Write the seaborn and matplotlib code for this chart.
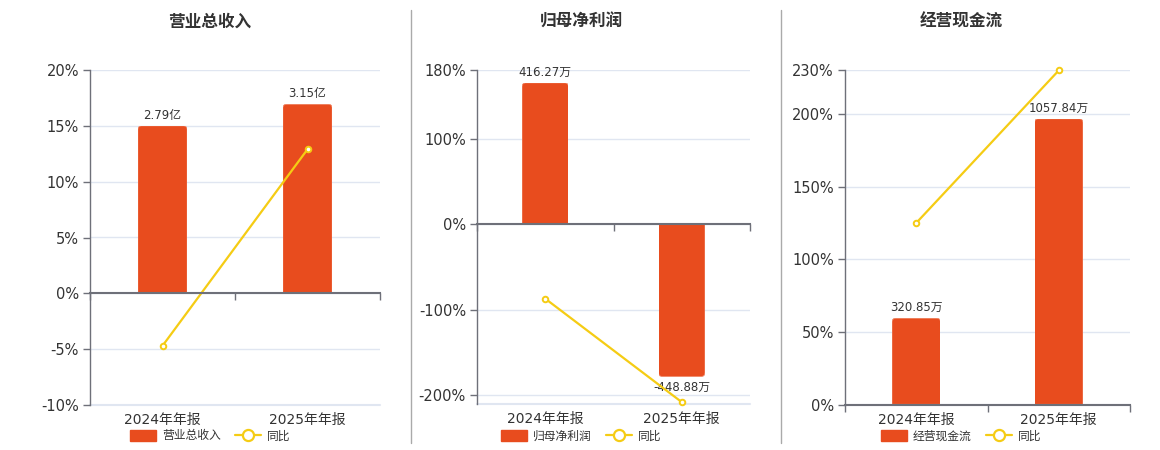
import matplotlib
matplotlib.use("Agg")
import matplotlib.pyplot as plt
from matplotlib.patches import Patch, FancyBboxPatch, Rectangle
from matplotlib.lines import Line2D
import seaborn as sns
import numpy as np
import pandas as pd

sns.set_theme(style="white")
plt.rcParams['font.family'] = ['DejaVu Sans', 'Noto Sans CJK SC']

# data
periods = ['2024年年报', '2025年年报']

revenue = [2.79, 3.15]            # 亿
revenue_yoy = [-4.7, 12.9]        # %
revenue_labels = ['2.79亿', '3.15亿']

profit = [416.27, -448.88]        # 万
profit_yoy = [-87.0, -207.8]      # %
profit_labels = ['416.27万', '-448.88万']

cashflow = [320.85, 1057.84]      # 万
cashflow_yoy = [125.0, 229.7]     # %
cashflow_labels = ['320.85万', '1057.84万']

BAR = '#E84C1E'
LINE = '#F5CC14'
AXIS = '#6E7079'
GRID = '#E0E6F1'
TEXT = '#333333'

W, H = 1160, 450
fig = plt.figure(figsize=(W / 100, H / 100), dpi=100)
fig.patch.set_facecolor('white')

panels = [
    dict(title='营业总收入', name='营业总收入', bars=revenue, yoy=revenue_yoy,
         labels=revenue_labels, ylim=(-10, 20), ticks=[-10, -5, 0, 5, 10, 15, 20],
         scale=15 / 2.79, box=(90, 70, 380, 405), cx=210),
    dict(title='归母净利润', name='归母净利润', bars=profit, yoy=profit_yoy,
         labels=profit_labels, ylim=(-210, 180), ticks=[-200, -100, 0, 100, 180],
         scale=165 / 416.27, box=(477, 70, 750, 404), cx=581),
    dict(title='经营现金流', name='经营现金流', bars=cashflow, yoy=cashflow_yoy,
         labels=cashflow_labels, ylim=(0, 230), ticks=[0, 50, 100, 150, 200, 230],
         scale=59.6 / 320.85, box=(845, 70, 1130, 405), cx=961),
]


def round_bars(axb, px_w, px_h, radius=4):
    # swap the plain bars for ones with rounded ends, clipped at the baseline
    x_per_px = np.diff(axb.get_xlim())[0] / px_w
    y_per_px = np.diff(axb.get_ylim())[0] / px_h
    r = radius * x_per_px
    for rect in list(axb.patches):
        x, y = rect.get_x(), rect.get_y()
        w, h = rect.get_width(), rect.get_height()
        ext = radius * y_per_px
        if h >= 0:
            fy, fh = y - ext, h + ext
        else:
            fy, fh = y + ext, h - ext
        fb = FancyBboxPatch((x, min(fy, fy + fh)), w, abs(fh),
                            boxstyle=f"round,pad=0,rounding_size={r}",
                            mutation_aspect=y_per_px / x_per_px,
                            facecolor=BAR, edgecolor='#F08A6A', linewidth=0.6)
        axb.add_patch(fb)
        clip = Rectangle((x, min(y, y + h)), w, abs(h), transform=axb.transData)
        fb.set_clip_path(clip)
        rect.set_visible(False)


for p in panels:
    x0, y0, x1, y1 = p['box']
    ax = fig.add_axes([x0 / W, 1 - y1 / H, (x1 - x0) / W, (y1 - y0) / H])
    axb = ax.twinx()
    ax.set_zorder(axb.get_zorder() + 1)
    ax.patch.set_visible(False)

    df = pd.DataFrame({'period': periods, 'value': p['bars'], 'yoy': p['yoy']})

    # bars on their own (hidden) scale, zero aligned with the 0% line
    sns.barplot(data=df, x='period', y='value', ax=axb, color=BAR, width=0.34,
                saturation=1, edgecolor='#F08A6A', linewidth=0.6)
    lo, hi = p['ylim']
    axb.set_ylim(lo / p['scale'], hi / p['scale'])
    axb.set_xlim(-0.5, 1.5)
    axb.set_yticks(np.array(p['ticks']) / p['scale'])
    axb.yaxis.grid(True, color=GRID, linewidth=1)
    # light line along the bottom edge of the plot area
    axb.axhline(lo / p['scale'], color=GRID, linewidth=1.5, clip_on=False)
    axb.tick_params(axis='y', length=0, labelright=False, labelleft=False)
    axb.tick_params(axis='x', length=0, labelbottom=False)
    axb.set_xlabel('')
    axb.set_ylabel('')
    for s in axb.spines.values():
        s.set_visible(False)
    axb.bar_label(axb.containers[0], labels=p['labels'], padding=3,
                  fontsize=8.5, color=TEXT)
    round_bars(axb, x1 - x0, y1 - y0)

    # yoy line on the percent axis
    sns.pointplot(data=df, x='period', y='yoy', ax=ax, color=LINE,
                  markers='o', markersize=4, linewidth=1.6,
                  markerfacecolor='white', markeredgecolor=LINE,
                  markeredgewidth=1.4)
    for ln in ax.lines:
        ln.set_clip_on(False)
    ax.set_xlim(-0.5, 1.5)
    ax.set_ylim(lo, hi)
    ax.set_yticks(p['ticks'])
    ax.set_yticklabels([f'{t}%' for t in p['ticks']])
    ax.tick_params(axis='y', length=5, width=1, color=AXIS, labelsize=10.5,
                   labelcolor=TEXT, pad=3, left=True)
    ax.set_xticks([-0.5, 0.5, 1.5])
    ax.tick_params(axis='x', length=5, width=1, color=AXIS, direction='out',
                   labelbottom=False, bottom=True)
    ax.set_xlabel('')
    ax.set_ylabel('')
    for side in ['top', 'right']:
        ax.spines[side].set_visible(False)
    ax.spines['left'].set_color(AXIS)
    ax.spines['left'].set_linewidth(1)
    ax.spines['bottom'].set_position(('data', 0))
    ax.spines['bottom'].set_color(AXIS)
    ax.spines['bottom'].set_linewidth(1.5)

    for i, per in enumerate(periods):
        ax.text(i, -0.025, per, transform=ax.get_xaxis_transform(),
                ha='center', va='top', fontsize=10, color=TEXT)

    fig.text(p['cx'] / W, 1 - 22 / H, p['title'], ha='center', va='center',
             fontsize=12, fontweight='bold', color=TEXT)

    handles = [Patch(facecolor=BAR, edgecolor=BAR, label=p['name']),
               Line2D([0], [0], color=LINE, lw=1.6, marker='o', markersize=8,
                      markerfacecolor='white', markeredgecolor=LINE,
                      markeredgewidth=1.6, label='同比')]
    fig.legend(handles=handles, loc='center', ncol=2,
               bbox_to_anchor=(p['cx'] / W, 1 - 436 / H), frameon=False,
               fontsize=8.5, labelcolor=TEXT, handlelength=2.2,
               handleheight=1.0, handletextpad=0.5, columnspacing=1.2)

# separators between panels
for xs in (411, 781):
    fig.add_artist(Line2D([xs / W, xs / W], [1 - 10 / H, 1 - 443 / H],
                          color='#AAAAAA', linewidth=1))

fig.savefig('out.png', dpi=100, facecolor='white')
